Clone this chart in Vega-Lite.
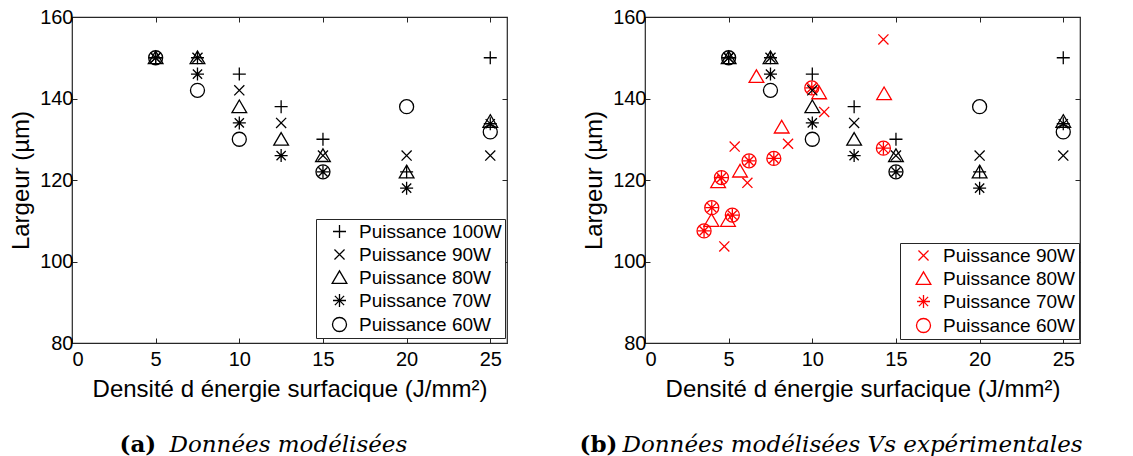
{
  "$schema": "https://vega.github.io/schema/vega-lite/v6.json",
  "background": "white",
  "padding": {"left": 9, "top": 6, "right": 0, "bottom": 0},
  "spacing": 69,
  "datasets": {
    "model": [
      {"x": 5, "y": 150, "serie": "Puissance 100W"},
      {"x": 5, "y": 150, "serie": "Puissance 90W"},
      {"x": 5, "y": 150, "serie": "Puissance 80W"},
      {"x": 5, "y": 150, "serie": "Puissance 70W"},
      {"x": 5, "y": 150, "serie": "Puissance 60W"},
      {"x": 7.5, "y": 150, "serie": "Puissance 100W"},
      {"x": 7.5, "y": 150, "serie": "Puissance 90W"},
      {"x": 7.5, "y": 150, "serie": "Puissance 80W"},
      {"x": 7.5, "y": 146, "serie": "Puissance 70W"},
      {"x": 7.5, "y": 142, "serie": "Puissance 60W"},
      {"x": 10, "y": 146, "serie": "Puissance 100W"},
      {"x": 10, "y": 142, "serie": "Puissance 90W"},
      {"x": 10, "y": 138, "serie": "Puissance 80W"},
      {"x": 10, "y": 134, "serie": "Puissance 70W"},
      {"x": 10, "y": 130, "serie": "Puissance 60W"},
      {"x": 12.5, "y": 138, "serie": "Puissance 100W"},
      {"x": 12.5, "y": 134, "serie": "Puissance 90W"},
      {"x": 12.5, "y": 130, "serie": "Puissance 80W"},
      {"x": 12.5, "y": 126, "serie": "Puissance 70W"},
      {"x": 15, "y": 130, "serie": "Puissance 100W"},
      {"x": 15, "y": 126, "serie": "Puissance 90W"},
      {"x": 15, "y": 126, "serie": "Puissance 80W"},
      {"x": 15, "y": 122, "serie": "Puissance 70W"},
      {"x": 15, "y": 122, "serie": "Puissance 60W"},
      {"x": 20, "y": 122, "serie": "Puissance 100W"},
      {"x": 20, "y": 126, "serie": "Puissance 90W"},
      {"x": 20, "y": 122, "serie": "Puissance 80W"},
      {"x": 20, "y": 118, "serie": "Puissance 70W"},
      {"x": 20, "y": 138, "serie": "Puissance 60W"},
      {"x": 25, "y": 150, "serie": "Puissance 100W"},
      {"x": 25, "y": 126, "serie": "Puissance 90W"},
      {"x": 25, "y": 134.4, "serie": "Puissance 80W"},
      {"x": 25, "y": 133.8, "serie": "Puissance 70W"},
      {"x": 25, "y": 131.8, "serie": "Puissance 60W"}
    ],
    "exp": [
      {"x": 5.36, "y": 128.2, "serie": "Puissance 90W"},
      {"x": 6.12, "y": 119.3, "serie": "Puissance 90W"},
      {"x": 4.74, "y": 103.7, "serie": "Puissance 90W"},
      {"x": 8.55, "y": 128.9, "serie": "Puissance 90W"},
      {"x": 10.71, "y": 136.7, "serie": "Puissance 90W"},
      {"x": 14.25, "y": 154.5, "serie": "Puissance 90W"},
      {"x": 6.66, "y": 145.4, "serie": "Puissance 80W"},
      {"x": 8.17, "y": 133.0, "serie": "Puissance 80W"},
      {"x": 5.68, "y": 122.2, "serie": "Puissance 80W"},
      {"x": 4.37, "y": 119.6, "serie": "Puissance 80W"},
      {"x": 3.97, "y": 110.1, "serie": "Puissance 80W"},
      {"x": 4.96, "y": 110.1, "serie": "Puissance 80W"},
      {"x": 10.41, "y": 141.4, "serie": "Puissance 80W"},
      {"x": 14.29, "y": 141.2, "serie": "Puissance 80W"},
      {"x": 3.53, "y": 107.5, "serie": "Puissance 70W"},
      {"x": 3.99, "y": 113.2, "serie": "Puissance 70W"},
      {"x": 4.57, "y": 120.6, "serie": "Puissance 70W"},
      {"x": 5.22, "y": 111.4, "serie": "Puissance 70W"},
      {"x": 6.22, "y": 124.7, "serie": "Puissance 70W"},
      {"x": 7.70, "y": 125.3, "serie": "Puissance 70W"},
      {"x": 9.97, "y": 142.6, "serie": "Puissance 70W"},
      {"x": 14.25, "y": 127.8, "serie": "Puissance 70W"},
      {"x": 3.53, "y": 107.5, "serie": "Puissance 60W"},
      {"x": 3.99, "y": 113.2, "serie": "Puissance 60W"},
      {"x": 4.57, "y": 120.6, "serie": "Puissance 60W"},
      {"x": 5.22, "y": 111.4, "serie": "Puissance 60W"},
      {"x": 6.22, "y": 124.7, "serie": "Puissance 60W"},
      {"x": 7.70, "y": 125.3, "serie": "Puissance 60W"},
      {"x": 9.97, "y": 142.6, "serie": "Puissance 60W"},
      {"x": 14.25, "y": 127.8, "serie": "Puissance 60W"}
    ]
  },
  "config": {
    "view": {"stroke": "#262626", "strokeWidth": 1.2},
    "axis": {
      "domain": false,
      "grid": false,
      "tickColor": "#262626",
      "tickSize": -5,
      "tickWidth": 1,
      "labelFont": "Liberation Sans",
      "labelFontSize": 20,
      "labelColor": "black",
      "titleFont": "Liberation Sans",
      "titleFontSize": 24,
      "titleFontWeight": "normal",
      "titleColor": "black"
    },
    "legend": {
      "title": null,
      "strokeColor": "#262626",
      "fillColor": "white",
      "padding": 3,
      "symbolOffset": 11,
      "labelOffset": 10,
      "rowPadding": 3,
      "labelFont": "Liberation Sans",
      "labelFontSize": 19,
      "labelColor": "black",
      "symbolSize": 196,
      "symbolStrokeWidth": 1.3,
      "symbolFillColor": "transparent"
    }
  },
  "hconcat": [
    {
      "width": 435,
      "height": 326,
      "layer": [
        {
          "data": {"name": "model"},
          "mark": {"type": "point", "filled": false, "strokeWidth": 1.3, "color": "black", "size": 196, "opacity": 1},
          "encoding": {
            "x": {"field": "x", "type": "quantitative", "scale": {"domain": [0, 26], "nice": false, "zero": false},
                  "axis": {"orient": "bottom", "values": [0, 5, 10, 15, 20, 25], "labelPadding": 11, "titlePadding": 8, "title": "Densité d énergie surfacique (J/mm²)"}},
            "y": {"field": "y", "type": "quantitative", "scale": {"domain": [80, 160], "nice": false, "zero": false},
                  "axis": {"orient": "left", "values": [80, 100, 120, 140, 160], "labelPadding": 4, "titlePadding": 6, "title": "Largeur (µm)"}},
            "shape": {"field": "serie", "type": "nominal",
              "scale": {"domain": ["Puissance 100W", "Puissance 90W", "Puissance 80W", "Puissance 70W", "Puissance 60W"],
                        "range": ["M-0.93,0L0.93,0M0,-0.93L0,0.93", "M-0.72,-0.72L0.72,0.72M-0.72,0.72L0.72,-0.72", "M0,-0.95L1.05,0.85L-1.05,0.85Z", "M-0.93,0L0.93,0M0,-0.93L0,0.93M-0.66,-0.66L0.66,0.66M-0.66,0.66L0.66,-0.66", "circle"]},
              "legend": {"orient": "none", "legendX": 244, "legendY": 202, "symbolStrokeColor": "black"}}
          }
        },
        {
          "data": {"name": "model"},
          "mark": {"type": "point", "opacity": 0},
          "encoding": {
            "x": {"field": "x", "type": "quantitative", "scale": {"domain": [0, 26], "nice": false, "zero": false},
                  "axis": {"orient": "top", "values": [0, 5, 10, 15, 20, 25], "labels": false, "title": null}},
            "y": {"field": "y", "type": "quantitative", "scale": {"domain": [80, 160], "nice": false, "zero": false},
                  "axis": {"orient": "right", "values": [80, 100, 120, 140, 160], "labels": false, "title": null}}
          }
        },
        {
          "data": {"name": "model"},
          "mark": {"type": "point", "opacity": 0},
          "encoding": {
            "x": {"field": "x", "type": "quantitative", "scale": {"domain": [0, 26], "nice": false, "zero": false},
                  "axis": {"orient": "bottom", "labels": false, "ticks": false, "domain": false, "title": "(a)",
                           "titleX": 47, "titleY": 108, "titleAlign": "left", "titleBaseline": "alphabetic",
                           "titleFont": "DejaVu Serif", "titleFontWeight": "bold", "titleFontSize": 23}},
            "y": {"field": "y", "type": "quantitative", "scale": {"domain": [80, 160], "nice": false, "zero": false}, "axis": null}
          }
        },
        {
          "data": {"name": "model"},
          "mark": {"type": "point", "opacity": 0},
          "encoding": {
            "x": {"field": "x", "type": "quantitative", "scale": {"domain": [0, 26], "nice": false, "zero": false},
                  "axis": {"orient": "bottom", "labels": false, "ticks": false, "domain": false, "title": "Données modélisées",
                           "titleX": 97, "titleY": 108, "titleAlign": "left", "titleBaseline": "alphabetic",
                           "titleFont": "DejaVu Serif", "titleFontStyle": "italic", "titleFontSize": 23}},
            "y": {"field": "y", "type": "quantitative", "scale": {"domain": [80, 160], "nice": false, "zero": false}, "axis": null}
          }
        }
      ],
      "resolve": {"axis": {"x": "independent", "y": "independent"}}
    },
    {
      "width": 435,
      "height": 326,
      "layer": [
        {
          "data": {"name": "exp"},
          "mark": {"type": "point", "filled": false, "strokeWidth": 1.3, "color": "red", "size": 196, "opacity": 1},
          "encoding": {
            "x": {"field": "x", "type": "quantitative", "scale": {"domain": [0, 26], "nice": false, "zero": false},
                  "axis": {"orient": "bottom", "values": [0, 5, 10, 15, 20, 25], "labelPadding": 11, "titlePadding": 8, "title": "Densité d énergie surfacique (J/mm²)"}},
            "y": {"field": "y", "type": "quantitative", "scale": {"domain": [80, 160], "nice": false, "zero": false},
                  "axis": {"orient": "left", "values": [80, 100, 120, 140, 160], "labelPadding": 4, "titlePadding": 6, "title": "Largeur (µm)"}},
            "shape": {"field": "serie", "type": "nominal",
              "scale": {"domain": ["Puissance 90W", "Puissance 80W", "Puissance 70W", "Puissance 60W"],
                        "range": ["M-0.72,-0.72L0.72,0.72M-0.72,0.72L0.72,-0.72", "M0,-0.95L1.05,0.85L-1.05,0.85Z", "M-0.93,0L0.93,0M0,-0.93L0,0.93M-0.66,-0.66L0.66,0.66M-0.66,0.66L0.66,-0.66", "circle"]},
              "legend": {"orient": "none", "legendX": 255, "legendY": 226, "symbolStrokeColor": "red"}}
          }
        },
        {
          "data": {"name": "model"},
          "mark": {"type": "point", "filled": false, "strokeWidth": 1.3, "color": "black", "size": 196, "opacity": 1},
          "encoding": {
            "x": {"field": "x", "type": "quantitative", "scale": {"domain": [0, 26], "nice": false, "zero": false}, "axis": null},
            "y": {"field": "y", "type": "quantitative", "scale": {"domain": [80, 160], "nice": false, "zero": false}, "axis": null},
            "shape": {"field": "serie", "type": "nominal",
              "scale": {"domain": ["Puissance 100W", "Puissance 90W", "Puissance 80W", "Puissance 70W", "Puissance 60W"],
                        "range": ["M-0.93,0L0.93,0M0,-0.93L0,0.93", "M-0.72,-0.72L0.72,0.72M-0.72,0.72L0.72,-0.72", "M0,-0.95L1.05,0.85L-1.05,0.85Z", "M-0.93,0L0.93,0M0,-0.93L0,0.93M-0.66,-0.66L0.66,0.66M-0.66,0.66L0.66,-0.66", "circle"]},
              "legend": null}
          }
        },
        {
          "data": {"name": "model"},
          "mark": {"type": "point", "opacity": 0},
          "encoding": {
            "x": {"field": "x", "type": "quantitative", "scale": {"domain": [0, 26], "nice": false, "zero": false},
                  "axis": {"orient": "top", "values": [0, 5, 10, 15, 20, 25], "labels": false, "title": null}},
            "y": {"field": "y", "type": "quantitative", "scale": {"domain": [80, 160], "nice": false, "zero": false},
                  "axis": {"orient": "right", "values": [80, 100, 120, 140, 160], "labels": false, "title": null}}
          }
        },
        {
          "data": {"name": "model"},
          "mark": {"type": "point", "opacity": 0},
          "encoding": {
            "x": {"field": "x", "type": "quantitative", "scale": {"domain": [0, 26], "nice": false, "zero": false},
                  "axis": {"orient": "bottom", "labels": false, "ticks": false, "domain": false, "title": "(b)",
                           "titleX": -66, "titleY": 108, "titleAlign": "left", "titleBaseline": "alphabetic",
                           "titleFont": "DejaVu Serif", "titleFontWeight": "bold", "titleFontSize": 23}},
            "y": {"field": "y", "type": "quantitative", "scale": {"domain": [80, 160], "nice": false, "zero": false}, "axis": null}
          }
        },
        {
          "data": {"name": "model"},
          "mark": {"type": "point", "opacity": 0},
          "encoding": {
            "x": {"field": "x", "type": "quantitative", "scale": {"domain": [0, 26], "nice": false, "zero": false},
                  "axis": {"orient": "bottom", "labels": false, "ticks": false, "domain": false, "title": "Données modélisées Vs expérimentales",
                           "titleX": -23, "titleY": 108, "titleAlign": "left", "titleBaseline": "alphabetic",
                           "titleFont": "DejaVu Serif", "titleFontStyle": "italic", "titleFontSize": 23}},
            "y": {"field": "y", "type": "quantitative", "scale": {"domain": [80, 160], "nice": false, "zero": false}, "axis": null}
          }
        }
      ],
      "resolve": {"axis": {"x": "independent", "y": "independent"}, "scale": {"shape": "independent"}}
    }
  ]
}
